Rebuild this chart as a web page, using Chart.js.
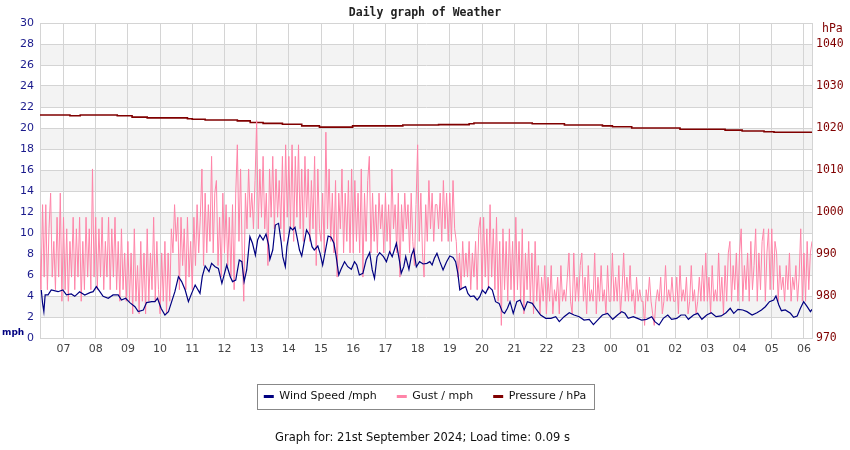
<!DOCTYPE html>
<html>
<head>
<meta charset="utf-8">
<title>Daily graph of Weather</title>
<script src="https://cdn.jsdelivr.net/npm/chart.js@4.4.1/dist/chart.umd.min.js"></script>
<style>
  body { margin: 0; background: #fff; }
  .graph-wrap { position: relative; width: 850px; height: 450px; }
  .graph-footer { position: absolute; left: 0; top: 430px; width: 845px; text-align: center;
    font: 11.5px "DejaVu Sans", sans-serif; color: #111; }
</style>
</head>
<body>
<div class="graph-wrap">
  <canvas id="weather-chart" width="850" height="450"></canvas>
  <div class="graph-footer">Graph for: 21st September 2024; Load time: 0.09 s</div>
</div>
<script>
'use strict';

// hours since midnight of the 20th (24 = 00:00 on the 21st)
const windHours = [6.31, 6.35, 6.39, 6.43, 6.52, 6.62, 6.83, 6.98, 7.09, 7.24, 7.35, 7.50, 7.66, 7.82, 7.92,
  8.02, 8.13, 8.23, 8.39, 8.54, 8.70, 8.80, 8.93, 9.06, 9.22, 9.32, 9.48, 9.58, 9.74, 9.84, 9.92,
  10.03, 10.15, 10.26, 10.36, 10.46, 10.57, 10.67, 10.78, 10.88, 10.98, 11.09, 11.24, 11.31, 11.40,
  11.52, 11.60, 11.71, 11.81, 11.92, 12.07, 12.18, 12.25, 12.35, 12.46, 12.54, 12.61, 12.69, 12.79,
  12.87, 12.96, 13.03, 13.10, 13.20, 13.29, 13.37, 13.41, 13.50, 13.58, 13.68, 13.76, 13.81, 13.89,
  13.94, 14.04, 14.12, 14.19, 14.25, 14.33, 14.40, 14.48, 14.55, 14.64, 14.72, 14.79, 14.90, 14.97,
  15.05, 15.14, 15.22, 15.31, 15.40, 15.47, 15.55, 15.62, 15.73, 15.83, 15.94, 16.04, 16.11, 16.19,
  16.30, 16.40, 16.51, 16.59, 16.66, 16.74, 16.82, 16.94, 17.03, 17.13, 17.21, 17.34, 17.44, 17.49,
  17.57, 17.63, 17.73, 17.81, 17.88, 17.96, 18.06, 18.17, 18.29, 18.38, 18.45, 18.52, 18.60, 18.69,
  18.79, 18.90, 19.00, 19.10, 19.18, 19.25, 19.31, 19.38, 19.49, 19.56, 19.64, 19.75, 19.85, 19.93,
  20.01, 20.11, 20.21, 20.32, 20.42, 20.53, 20.63, 20.70, 20.79, 20.87, 20.97, 21.08, 21.18, 21.31,
  21.41, 21.56, 21.70, 21.82, 21.98, 22.14, 22.29, 22.40, 22.55, 22.71, 22.86, 23.02, 23.17, 23.33,
  23.46, 23.59, 23.74, 23.90, 24.06, 24.21, 24.34, 24.44, 24.54, 24.70, 24.83, 24.96, 25.11, 25.27,
  25.37, 25.50, 25.63, 25.77, 25.89, 26.05, 26.18, 26.31, 26.41, 26.57, 26.70, 26.83, 26.98, 27.12,
  27.27, 27.43, 27.58, 27.71, 27.82, 27.95, 28.10, 28.23, 28.39, 28.54, 28.68, 28.80, 28.93, 29.06,
  29.13, 29.22, 29.30, 29.42, 29.58, 29.68, 29.79, 29.89, 29.99, 30.10, 30.20, 30.25];

const windMph = [4.57, 3.30, 2.51, 4.10, 4.10, 4.57, 4.41, 4.57, 4.10, 4.19, 3.97, 4.41, 4.10, 4.32, 4.41,
  4.89, 4.41, 3.97, 3.78, 4.10, 4.10, 3.62, 3.78, 3.37, 2.98, 2.51, 2.67, 3.37, 3.46, 3.46, 3.78,
  2.83, 2.19, 2.51, 3.46, 4.41, 5.84, 5.37, 4.57, 3.46, 4.25, 5.05, 4.25, 5.84, 6.86,
  6.32, 7.11, 6.79, 6.63, 5.21, 6.95, 5.84, 5.37, 5.52, 7.43, 7.27, 5.37, 6.48, 9.65,
  9.02, 7.90, 9.33, 9.81, 9.33, 9.90, 8.86, 7.49, 8.38, 10.76, 10.92, 9.17, 7.75, 6.79,
  8.70, 10.54, 10.29, 10.54, 9.65, 8.38, 7.81, 9.17, 10.29, 9.81, 8.70, 8.38, 8.76, 8.06,
  6.95, 8.38, 9.71, 9.59, 9.02, 7.75, 6.00, 6.54, 7.27, 6.79, 6.54, 7.27, 6.95, 6.00,
  6.16, 7.43, 8.13, 6.48, 5.68, 7.75, 8.13, 7.75, 7.27, 8.22, 7.75, 9.02, 7.27, 6.16,
  6.79, 7.75, 6.54, 7.90, 8.44, 6.79, 7.27, 7.05, 7.11, 7.27, 6.95, 7.59, 8.06, 7.27,
  6.48, 7.27, 7.81, 7.68, 7.27, 6.16, 4.57, 4.73, 4.89, 4.25, 3.94, 4.00, 3.62, 3.94,
  4.57, 4.25, 4.89, 4.57, 3.46, 3.30, 2.51, 2.35, 2.83, 3.46, 2.35, 3.46, 3.62, 2.67,
  3.46, 3.30, 2.67, 2.19, 1.87, 1.87, 2.03, 1.56, 2.03, 2.41, 2.19, 2.03, 1.71, 1.78,
  1.27, 1.71, 2.19, 2.35, 1.78, 2.19, 2.51, 2.35, 1.87, 2.03, 1.87, 1.71, 1.78, 2.03,
  1.56, 1.24, 1.87, 2.19, 1.78, 1.87, 2.19, 2.19, 1.78, 2.19, 2.35, 1.78, 2.19, 2.41,
  2.03, 2.10, 2.41, 2.83, 2.35, 2.73, 2.67, 2.51, 2.19, 2.41, 2.67, 2.98, 3.46, 3.62,
  4.00, 3.14, 2.60, 2.67, 2.35, 1.97, 2.10, 2.83, 3.46, 2.98, 2.51, 2.73];

// gust logged every 3 minutes from 06:15, one row per hour
const gustStart = 6.25;
const gustStepMinutes = 3;
const gustMph = [
  9.2, 4.6, 12.7, 5.8, 12.7, 4.6, 10.4, 13.8, 5.8, 9.2, 4.6, 11.5, 5.8, 13.8, 3.5,
  11.5, 4.6, 10.4, 3.5, 9.2, 5.8, 11.5, 4.6, 10.4, 5.8, 11.5, 3.5, 9.2, 4.6, 11.5, 5.8, 10.4, 4.6, 16.1, 5.8,
  11.5, 4.6, 10.4, 5.8, 11.5, 4.6, 9.2, 5.8, 11.5, 4.6, 10.4, 5.8, 11.5, 4.6, 9.2, 3.5, 10.4, 4.6, 8.1, 3.5,
  9.2, 3.5, 8.1, 2.3, 10.4, 3.5, 6.9, 2.3, 9.2, 3.5, 8.1, 2.3, 10.4, 3.5, 8.1, 4.6, 11.5, 3.5, 9.2, 4.6,
  2.3, 8.1, 3.5, 9.2, 2.3, 8.1, 3.5, 10.4, 8.1, 12.7, 9.2, 11.5, 4.6, 11.5, 6.9, 10.4, 4.6, 11.5, 5.8, 9.2,
  4.6, 11.5, 6.9, 12.7, 8.1, 11.5, 16.1, 6.9, 13.8, 8.1, 12.7, 9.2, 17.3, 8.1, 13.8, 15.0, 6.9, 11.5, 5.8, 13.8,
  8.1, 12.7, 6.9, 11.5, 5.8, 12.7, 4.6, 13.8, 18.4, 9.2, 16.1, 8.1, 3.5, 13.8, 10.4, 16.1, 11.5, 13.8, 10.4, 15.0,
  20.7, 10.4, 16.1, 11.5, 17.3, 10.4, 13.8, 6.9, 16.1, 11.5, 17.3, 10.4, 16.1, 11.5, 15.0, 10.4, 17.3, 9.2, 18.4, 11.5,
  17.3, 10.4, 18.4, 9.2, 17.3, 11.5, 18.4, 10.4, 16.1, 9.2, 17.3, 11.5, 16.1, 9.2, 15.0, 10.4, 17.3, 6.9, 16.1, 10.4,
  9.2, 13.8, 8.1, 19.6, 10.4, 16.1, 9.2, 13.8, 8.1, 15.0, 5.8, 13.8, 10.4, 16.1, 8.1, 13.8, 9.2, 15.0, 8.1, 16.1,
  8.1, 15.0, 9.2, 13.8, 8.1, 16.1, 5.8, 13.8, 9.2, 15.0, 17.3, 8.1, 13.8, 9.2, 12.7, 8.1, 13.8, 10.4, 12.7, 8.1,
  13.8, 9.2, 12.7, 8.1, 16.1, 10.4, 12.7, 8.1, 13.8, 5.8, 12.7, 9.2, 13.8, 10.4, 12.7, 8.1, 13.8, 9.2, 6.9, 12.7,
  18.4, 9.2, 13.8, 8.1, 5.8, 12.7, 9.2, 15.0, 10.4, 13.8, 9.2, 12.7, 12.7, 10.4, 13.8, 9.2, 15.0, 10.4, 13.8, 9.2,
  13.8, 9.2, 15.0, 10.4, 9.2, 5.8, 8.1, 4.6, 9.2, 5.8, 8.1, 5.8, 9.2, 4.6, 8.1, 5.8, 9.2, 4.6, 10.4, 11.5,
  4.6, 11.5, 5.8, 10.4, 4.6, 12.7, 5.8, 10.4, 4.6, 11.5, 3.5, 9.2, 1.2, 10.4, 4.6, 9.2, 3.5, 10.4, 4.6, 9.2,
  3.5, 11.5, 4.6, 9.2, 3.5, 10.4, 2.3, 8.1, 4.6, 9.2, 3.5, 8.1, 2.3, 9.2, 3.5, 6.9, 2.3, 5.8, 3.5, 6.9,
  2.3, 5.8, 3.5, 6.9, 2.3, 4.6, 3.5, 5.8, 2.3, 6.9, 3.5, 4.6, 3.5, 5.8, 8.1, 3.5, 2.3, 8.1, 3.5, 5.8,
  3.5, 6.9, 8.1, 3.5, 5.8, 2.3, 6.9, 3.5, 4.6, 3.5, 8.1, 2.3, 5.8, 3.5, 6.9, 3.5, 4.6, 2.3, 6.9, 3.5,
  3.5, 8.1, 3.5, 5.8, 3.5, 6.9, 2.3, 4.6, 8.1, 3.5, 5.8, 3.5, 6.9, 3.5, 4.6, 2.3, 5.8, 3.5, 4.6, 3.5,
  3.5, 1.2, 4.6, 3.5, 5.8, 3.5, 2.3, 1.2, 3.5, 4.6, 3.5, 5.8, 2.3, 3.5, 6.9, 3.5, 4.6, 3.5, 5.8, 3.5,
  3.5, 5.8, 2.3, 6.9, 3.5, 4.6, 3.5, 5.8, 2.3, 3.5, 6.9, 3.5, 4.6, 2.3, 3.5, 5.8, 3.5, 6.9, 3.5, 8.1,
  3.5, 5.8, 2.3, 6.9, 3.5, 4.6, 3.5, 8.1, 3.5, 5.8, 2.3, 6.9, 3.5, 8.1, 9.2, 3.5, 6.9, 4.6, 8.1, 3.5,
  8.1, 10.4, 3.5, 6.9, 4.6, 8.1, 3.5, 9.2, 4.6, 6.9, 10.4, 3.5, 8.1, 4.6, 9.2, 10.4, 3.5, 8.1, 10.4, 4.6,
  10.4, 4.6, 9.2, 8.1, 3.5, 6.9, 4.6, 5.8, 3.5, 6.9, 4.6, 8.1, 3.5, 5.8, 4.6, 6.9, 3.5, 5.8, 10.4, 3.5,
  8.1, 3.5, 9.2, 4.6, 8.1, 9.2];

const pressureHours = [6.27, 7.2, 7.52, 8.67, 9.13, 9.6, 10.85, 11.0, 11.4, 12.4, 12.8, 13.2, 13.8, 14.4,
  14.95, 15.98, 17.54, 18.65, 19.6, 19.75, 21.56, 22.56, 23.74, 24.05, 24.65, 26.15, 27.55, 28.08,
  28.76, 29.07, 30.0, 30.25];
const pressureHpa = [1022.9, 1023.1, 1022.9, 1023.1, 1022.9, 1022.6, 1022.4, 1022.2, 1022.1, 1021.9, 1021.7,
  1021.3, 1021.1, 1020.9, 1020.5, 1020.2, 1020.5, 1020.7, 1020.8, 1021.0, 1021.2, 1021.0, 1020.7, 1020.5,
  1020.3, 1020.0, 1019.7, 1019.5, 1019.3, 1019.1, 1019.0, 1019.0];

const windPoints = windHours.map((h, i) => ({ x: h, y: windMph[i] }));
const gustPoints = gustMph.map((v, i) => ({ x: gustStart + i * gustStepMinutes / 60, y: v }));
const pressurePoints = pressureHours.map((h, i) => ({ x: h, y: pressureHpa[i] }));

const gridGrey = '#d4d4d4';
const navy = '#000080';
const maroon = '#800000';

// grey stripes behind every other 2 mph band
const stripes = {
  id: 'stripes',
  beforeDraw(chart) {
    const { ctx, chartArea: a, scales: { y } } = chart;
    ctx.save();
    ctx.fillStyle = '#f3f3f3';
    for (let v = 2; v < 30; v += 4) {
      const top = y.getPixelForValue(v + 2);
      const bot = y.getPixelForValue(v);
      ctx.fillRect(a.left, top, a.right - a.left, bot - top);
    }
    ctx.restore();
  }
};

const legendFrame = {
  id: 'legendFrame',
  afterDraw(chart) {
    const boxes = chart.legend.legendHitBoxes;
    if (!boxes || !boxes.length) return;
    const first = boxes[0];
    const last = boxes[boxes.length - 1];
    const mid = first.top + first.height / 2;
    const c = chart.ctx;
    c.save();
    c.strokeStyle = '#888';
    c.lineWidth = 1;
    const left = Math.round(first.left - 7) + 0.5;
    const right = Math.round(last.left + last.width + 8) + 0.5;
    c.strokeRect(left, Math.round(mid - 13) + 0.5, right - left, 25);
    c.restore();
  }
};

const unitLabels = {
  id: 'unitLabels',
  afterDraw(chart) {
    const c = chart.ctx;
    const y = chart.scales.y;
    const y2 = chart.scales.y2;
    c.save();
    c.textAlign = 'left';
    c.textBaseline = 'middle';
    c.font = 'bold 9px "DejaVu Sans"';
    c.fillStyle = navy;
    c.fillText('mph', 2, y.getPixelForValue(0) - 5);
    c.font = '11.5px "DejaVu Sans Mono"';
    c.fillStyle = maroon;
    c.fillText('hPa', y2.left + 10, y2.top + 6);
    c.restore();
  }
};

const ctx = document.getElementById('weather-chart').getContext('2d');

const chart = new Chart(ctx, {
  type: 'line',
  data: {
    datasets: [
      { label: 'Wind Speed /mph', data: windPoints, borderColor: navy, backgroundColor: navy,
        borderWidth: 1.2, pointRadius: 0, yAxisID: 'y' },
      { label: 'Gust / mph', data: gustPoints, borderColor: '#ff84a8', backgroundColor: '#ff84a8',
        borderWidth: 1, pointRadius: 0, yAxisID: 'y' },
      { label: 'Pressure / hPa', data: pressurePoints, borderColor: maroon, backgroundColor: maroon,
        borderWidth: 1.6, pointRadius: 0, stepped: 'after', yAxisID: 'y2' }
    ]
  },
  options: {
    responsive: false,
    animation: false,
    devicePixelRatio: 1,
    layout: { padding: { left: 0, right: 0, top: 0, bottom: 38 } },
    scales: {
      x: {
        type: 'linear', min: 6.27, max: 30.25,
        ticks: {
          stepSize: 1, includeBounds: false, autoSkip: false, maxRotation: 0, padding: 5,
          color: '#444', font: { family: 'DejaVu Sans', size: 11 },
          callback: v => String(v % 24).padStart(2, '0')
        },
        grid: { color: gridGrey, drawTicks: false },
        border: { color: gridGrey },
        afterFit: s => { s.height = 33; }
      },
      y: {
        position: 'left', min: 0, max: 30,
        ticks: { stepSize: 2, padding: 6, color: '#1a1a8c', font: { family: 'DejaVu Sans', size: 11 } },
        grid: { color: gridGrey, drawTicks: false },
        border: { color: gridGrey },
        afterFit: s => { s.width = 40; }
      },
      y2: {
        position: 'right', min: 970, max: 1045,
        ticks: { stepSize: 10, includeBounds: false, padding: 4, color: maroon,
          font: { family: 'DejaVu Sans Mono', size: 11.5 }, callback: v => String(v) },
        grid: { display: false, drawTicks: false },
        border: { color: gridGrey },
        afterFit: s => { s.width = 38; }
      }
    },
    plugins: {
      title: {
        display: true, text: 'Daily graph of Weather', color: '#222',
        font: { family: 'DejaVu Sans Mono', size: 11.5, weight: 'bold' },
        padding: { top: 6, bottom: 3.2 }
      },
      legend: {
        position: 'bottom',
        labels: {
          boxWidth: 10, boxHeight: 3, padding: 20, color: '#111',
          font: { family: 'DejaVu Sans', size: 11 },
          generateLabels: function (ch) {
            const items = Chart.defaults.plugins.legend.labels.generateLabels(ch);
            items.forEach(it => { it.lineWidth = 0; });
            return items;
          }
        }
      },
      tooltip: { enabled: false }
    }
  },
  plugins: [stripes, legendFrame, unitLabels]
});
</script>
</body>
</html>
